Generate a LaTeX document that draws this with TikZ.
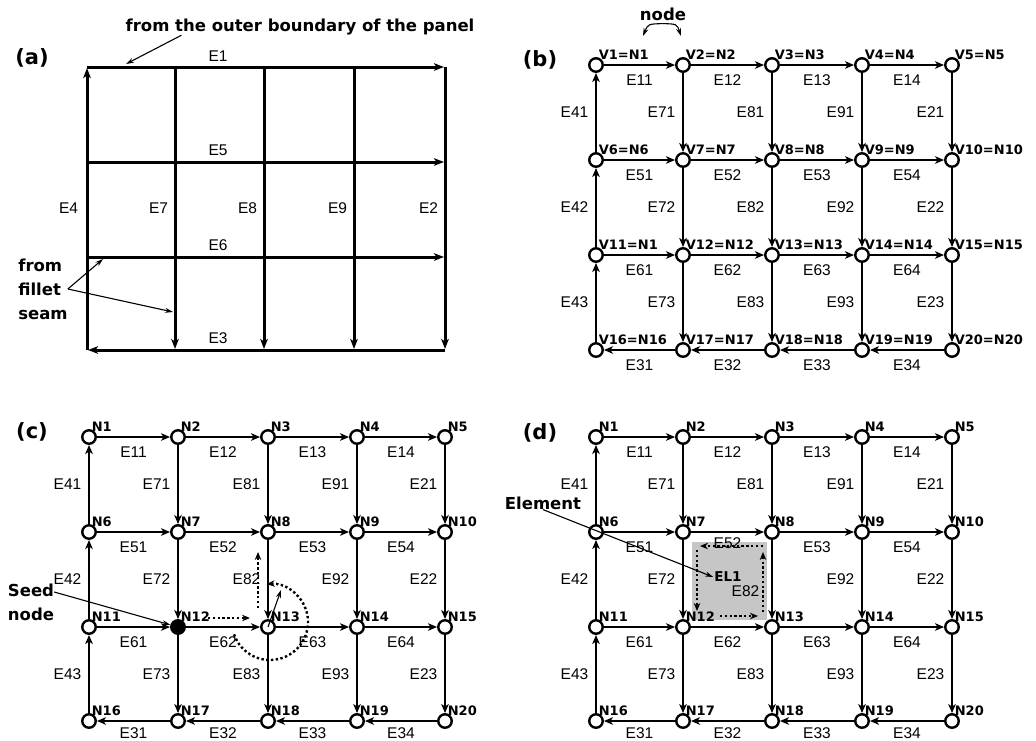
\documentclass[tikz,border=0pt]{standalone}
\usepackage{fontspec}
\setmainfont{Liberation Sans}
\newfontfamily\djv{DejaVu Sans}
\usetikzlibrary{arrows.meta}
\tikzset{
	vtx/.style={draw,circle,line width=2.4pt,fill=white,minimum size=13.5pt,inner sep=0pt,label distance=3pt},
	nlbl/.style={font=\djv\bfseries\fontsize{13}{13}\selectfont,inner sep=0pt,xshift=-3pt},
	link/.style={line width=2.4pt,-{Stealth[length=9pt,width=7.5pt,inset=2.5pt]}},
	aline/.style={line width=3pt,shorten >=1pt,-{Stealth[length=10pt,width=7.5pt,inset=2.5pt]}},
	elbl/.style={font=\fontsize{15.5}{15.5}\selectfont,inner sep=1.5pt},
	hl/.style={elbl,below=7pt},
	hlb/.style={elbl,below=4pt},
	vl/.style={elbl,left=5pt},
	alab/.style={elbl,above=3pt},
	note/.style={line width=1.1pt,-{Stealth[length=8pt,width=5pt]}},
	dots/.style={line width=2.4pt,dash pattern=on 2.4pt off 2.4pt,-{Stealth[length=8pt,width=6.5pt]}},
	big/.style={font=\djv\bfseries\fontsize{16.5}{24}\selectfont,inner sep=0pt},
	tag/.style={font=\djv\bfseries\fontsize{21}{21}\selectfont,inner sep=0pt}
}
\begin{document}
\begin{tikzpicture}[x=1pt,y=-1pt]
\fill[white] (0,0) rectangle (1036,740);
\useasboundingbox (0,0) rectangle (1036,740);
\node[tag] (taga) at (32,58) {(a)};
\node[tag] (tagb) at (540,60) {(b)};
\node[tag] (tagc) at (32,432) {(c)};
\node[tag] (tagd) at (540,433) {(d)};
\coordinate (a1) at (87,67);
\coordinate (a2) at (175,67);
\coordinate (a3) at (264,67);
\coordinate (a4) at (354,67);
\coordinate (a5) at (445,67);
\coordinate (a6) at (87,162);
\coordinate (a10) at (445,162);
\coordinate (a11) at (87,257);
\coordinate (a15) at (445,257);
\coordinate (a16) at (87,350);
\coordinate (a17) at (175,350);
\coordinate (a18) at (264,350);
\coordinate (a19) at (354,350);
\coordinate (a20) at (445,350);
\draw[aline] (a1) -- node[alab,pos=0.366] {E1} (a5);
\draw[aline] (a6) -- node[alab,pos=0.366] {E5} (a10);
\draw[aline] (a11) -- node[alab,pos=0.366] {E6} (a15);
\draw[aline] (a20) -- node[alab,pos=0.634] {E3} (a16);
\draw[aline] (a16) -- node[elbl,left=6pt] {E4} (a1);
\draw[aline] (a2) -- node[elbl,left=4pt] {E7} (a17);
\draw[aline] (a3) -- node[elbl,left=4pt] {E8} (a18);
\draw[aline] (a4) -- node[elbl,left=4pt] {E9} (a19);
\draw[aline] (a5) -- node[elbl,left=4pt] {E2} (a20);
\node[big] (outer) at (300,27) {from the outer boundary of the panel};
\coordinate (oe) at (126,64);
\draw[note] ([xshift=56pt]outer.south west) -- (oe);
\node[big,align=left] (fillet) at (43,289) {from\\fillet\\seam};
\coordinate (fa) at (103,259);
\coordinate (fb) at (173,312);
\draw[note] (fillet.east) -- (fa);
\draw[note] (fillet.east) -- (fb);
\node[vtx,label={[nlbl]45:V1=N1}] (b1) at (596,65) {};
\node[vtx,label={[nlbl]45:V2=N2}] (b2) at (683,65) {};
\node[vtx,label={[nlbl]45:V3=N3}] (b3) at (772,65) {};
\node[vtx,label={[nlbl]45:V4=N4}] (b4) at (862,65) {};
\node[vtx,label={[nlbl]45:V5=N5}] (b5) at (952,65) {};
\node[vtx,label={[nlbl]45:V6=N6}] (b6) at (596,160) {};
\node[vtx,label={[nlbl]45:V7=N7}] (b7) at (683,160) {};
\node[vtx,label={[nlbl]45:V8=N8}] (b8) at (772,160) {};
\node[vtx,label={[nlbl]45:V9=N9}] (b9) at (862,160) {};
\node[vtx,label={[nlbl]45:V10=N10}] (b10) at (952,160) {};
\node[vtx,label={[nlbl]45:V11=N1}] (b11) at (596,255) {};
\node[vtx,label={[nlbl]45:V12=N12}] (b12) at (683,255) {};
\node[vtx,label={[nlbl]45:V13=N13}] (b13) at (772,255) {};
\node[vtx,label={[nlbl]45:V14=N14}] (b14) at (862,255) {};
\node[vtx,label={[nlbl]45:V15=N15}] (b15) at (952,255) {};
\node[vtx,label={[nlbl]45:V16=N16}] (b16) at (596,350) {};
\node[vtx,label={[nlbl]45:V17=N17}] (b17) at (683,350) {};
\node[vtx,label={[nlbl]45:V18=N18}] (b18) at (772,350) {};
\node[vtx,label={[nlbl]45:V19=N19}] (b19) at (862,350) {};
\node[vtx,label={[nlbl]45:V20=N20}] (b20) at (952,350) {};
\draw[link] (b1) -- node[hl] {E11} (b2);
\draw[link] (b2) -- node[hl] {E12} (b3);
\draw[link] (b3) -- node[hl] {E13} (b4);
\draw[link] (b4) -- node[hl] {E14} (b5);
\draw[link] (b5) -- node[vl] {E21} (b10);
\draw[link] (b10) -- node[vl] {E22} (b15);
\draw[link] (b15) -- node[vl] {E23} (b20);
\draw[link] (b17) -- node[hl] {E31} (b16);
\draw[link] (b18) -- node[hl] {E32} (b17);
\draw[link] (b19) -- node[hl] {E33} (b18);
\draw[link] (b20) -- node[hl] {E34} (b19);
\draw[link] (b6) -- node[vl] {E41} (b1);
\draw[link] (b11) -- node[vl] {E42} (b6);
\draw[link] (b16) -- node[vl] {E43} (b11);
\draw[link] (b6) -- node[hl] {E51} (b7);
\draw[link] (b7) -- node[hl] {E52} (b8);
\draw[link] (b8) -- node[hl] {E53} (b9);
\draw[link] (b9) -- node[hl] {E54} (b10);
\draw[link] (b11) -- node[hl] {E61} (b12);
\draw[link] (b12) -- node[hl] {E62} (b13);
\draw[link] (b13) -- node[hl] {E63} (b14);
\draw[link] (b14) -- node[hl] {E64} (b15);
\draw[link] (b2) -- node[vl] {E71} (b7);
\draw[link] (b7) -- node[vl] {E72} (b12);
\draw[link] (b12) -- node[vl] {E73} (b17);
\draw[link] (b3) -- node[vl] {E81} (b8);
\draw[link] (b8) -- node[vl] {E82} (b13);
\draw[link] (b13) -- node[vl] {E83} (b18);
\draw[link] (b4) -- node[vl] {E91} (b9);
\draw[link] (b9) -- node[vl] {E92} (b14);
\draw[link] (b14) -- node[vl] {E93} (b19);
\node[big] (nodetxt) at (663,14) {node};
\coordinate (hl1) at (643,36);
\coordinate (hr1) at (681,36);
\draw[note] ([yshift=-3pt]nodetxt.south) .. controls (648,24) .. (hl1);
\draw[note] ([yshift=-3pt]nodetxt.south) .. controls (677,24) .. (hr1);
\node[vtx,label={[nlbl]45:N1}] (c1) at (89,437) {};
\node[vtx,label={[nlbl]45:N2}] (c2) at (178,437) {};
\node[vtx,label={[nlbl]45:N3}] (c3) at (268,437) {};
\node[vtx,label={[nlbl]45:N4}] (c4) at (357,437) {};
\node[vtx,label={[nlbl]45:N5}] (c5) at (445,437) {};
\node[vtx,label={[nlbl]45:N6}] (c6) at (89,532) {};
\node[vtx,label={[nlbl]45:N7}] (c7) at (178,532) {};
\node[vtx,label={[nlbl]45:N8}] (c8) at (268,532) {};
\node[vtx,label={[nlbl]45:N9}] (c9) at (357,532) {};
\node[vtx,label={[nlbl]45:N10}] (c10) at (445,532) {};
\node[vtx,label={[nlbl]45:N11}] (c11) at (89,627) {};
\node[vtx,fill=black,label={[nlbl]45:N12}] (c12) at (178,627) {};
\node[vtx,label={[nlbl]45:N13}] (c13) at (268,627) {};
\node[vtx,label={[nlbl]45:N14}] (c14) at (357,627) {};
\node[vtx,label={[nlbl]45:N15}] (c15) at (445,627) {};
\node[vtx,label={[nlbl]45:N16}] (c16) at (89,721) {};
\node[vtx,label={[nlbl]45:N17}] (c17) at (178,721) {};
\node[vtx,label={[nlbl]45:N18}] (c18) at (268,721) {};
\node[vtx,label={[nlbl]45:N19}] (c19) at (357,721) {};
\node[vtx,label={[nlbl]45:N20}] (c20) at (445,721) {};
\draw[link] (c1) -- node[hl] {E11} (c2);
\draw[link] (c2) -- node[hl] {E12} (c3);
\draw[link] (c3) -- node[hl] {E13} (c4);
\draw[link] (c4) -- node[hl] {E14} (c5);
\draw[link] (c5) -- node[vl] {E21} (c10);
\draw[link] (c10) -- node[vl] {E22} (c15);
\draw[link] (c15) -- node[vl] {E23} (c20);
\draw[link] (c17) -- node[hlb] {E31} (c16);
\draw[link] (c18) -- node[hlb] {E32} (c17);
\draw[link] (c19) -- node[hlb] {E33} (c18);
\draw[link] (c20) -- node[hlb] {E34} (c19);
\draw[link] (c6) -- node[vl] {E41} (c1);
\draw[link] (c11) -- node[vl] {E42} (c6);
\draw[link] (c16) -- node[vl] {E43} (c11);
\draw[link] (c6) -- node[hl] {E51} (c7);
\draw[link] (c7) -- node[hl] {E52} (c8);
\draw[link] (c8) -- node[hl] {E53} (c9);
\draw[link] (c9) -- node[hl] {E54} (c10);
\draw[link] (c11) -- node[hl] {E61} (c12);
\draw[link] (c12) -- node[hl] {E62} (c13);
\draw[link] (c13) -- node[hl] {E63} (c14);
\draw[link] (c14) -- node[hl] {E64} (c15);
\draw[link] (c2) -- node[vl] {E71} (c7);
\draw[link] (c7) -- node[vl] {E72} (c12);
\draw[link] (c12) -- node[vl] {E73} (c17);
\draw[link] (c3) -- node[vl] {E81} (c8);
\draw[link] (c8) -- node[vl] {E82} (c13);
\draw[link] (c13) -- node[vl] {E83} (c18);
\draw[link] (c4) -- node[vl] {E91} (c9);
\draw[link] (c9) -- node[vl] {E92} (c14);
\draw[link] (c14) -- node[vl] {E93} (c19);
\node[big,align=left] (seed) at (31,602) {Seed\\node};
\draw[note] ([yshift=10pt]seed.east) -- (c12);
\coordinate (s1) at (208,618);
\coordinate (s2) at (250,618);
\coordinate (s3) at (258,608);
\coordinate (s4) at (258,552);
\coordinate (s5) at (281,590);
\coordinate (rot) at (270,622);
\draw[dots] (s1) -- (s2);
\draw[dots] (s3) -- (s4);
\draw[dots] ([shift={(199:38pt)}]rot) arc[start angle=199,end angle=455,radius=38pt];
\draw[note] (c13.center) -- (s5);
\fill[gray!45] (692,542) rectangle (767,620);
\coordinate (e1) at (763,546);
\coordinate (e2) at (700,546);
\coordinate (e3) at (697,550);
\coordinate (e4) at (697,611);
\coordinate (e5) at (720,616);
\coordinate (e6) at (758,616);
\coordinate (e7) at (763,612);
\coordinate (e8) at (763,552);
\draw[dots] (e1) -- (e2);
\draw[dots] (e3) -- (e4);
\draw[dots] (e5) -- (e6);
\draw[dots] (e7) -- (e8);
\node[vtx,label={[nlbl]45:N1}] (d1) at (596,437) {};
\node[vtx,label={[nlbl]45:N2}] (d2) at (683,437) {};
\node[vtx,label={[nlbl]45:N3}] (d3) at (772,437) {};
\node[vtx,label={[nlbl]45:N4}] (d4) at (862,437) {};
\node[vtx,label={[nlbl]45:N5}] (d5) at (952,437) {};
\node[vtx,label={[nlbl]45:N6}] (d6) at (596,532) {};
\node[vtx,label={[nlbl]45:N7}] (d7) at (683,532) {};
\node[vtx,label={[nlbl]45:N8}] (d8) at (772,532) {};
\node[vtx,label={[nlbl]45:N9}] (d9) at (862,532) {};
\node[vtx,label={[nlbl]45:N10}] (d10) at (952,532) {};
\node[vtx,label={[nlbl]45:N11}] (d11) at (596,627) {};
\node[vtx,label={[nlbl]45:N12}] (d12) at (683,627) {};
\node[vtx,label={[nlbl]45:N13}] (d13) at (772,627) {};
\node[vtx,label={[nlbl]45:N14}] (d14) at (862,627) {};
\node[vtx,label={[nlbl]45:N15}] (d15) at (952,627) {};
\node[vtx,label={[nlbl]45:N16}] (d16) at (596,721) {};
\node[vtx,label={[nlbl]45:N17}] (d17) at (683,721) {};
\node[vtx,label={[nlbl]45:N18}] (d18) at (772,721) {};
\node[vtx,label={[nlbl]45:N19}] (d19) at (862,721) {};
\node[vtx,label={[nlbl]45:N20}] (d20) at (952,721) {};
\draw[link] (d1) -- node[hl] {E11} (d2);
\draw[link] (d2) -- node[hl] {E12} (d3);
\draw[link] (d3) -- node[hl] {E13} (d4);
\draw[link] (d4) -- node[hl] {E14} (d5);
\draw[link] (d5) -- node[vl] {E21} (d10);
\draw[link] (d10) -- node[vl] {E22} (d15);
\draw[link] (d15) -- node[vl] {E23} (d20);
\draw[link] (d17) -- node[hlb] {E31} (d16);
\draw[link] (d18) -- node[hlb] {E32} (d17);
\draw[link] (d19) -- node[hlb] {E33} (d18);
\draw[link] (d20) -- node[hlb] {E34} (d19);
\draw[link] (d6) -- node[vl] {E41} (d1);
\draw[link] (d11) -- node[vl] {E42} (d6);
\draw[link] (d16) -- node[vl] {E43} (d11);
\draw[link] (d6) -- node[hl] {E51} (d7);
\draw[link] (d7) -- node[elbl,below=3pt] {E52} (d8);
\draw[link] (d8) -- node[hl] {E53} (d9);
\draw[link] (d9) -- node[hl] {E54} (d10);
\draw[link] (d11) -- node[hl] {E61} (d12);
\draw[link] (d12) -- node[hl] {E62} (d13);
\draw[link] (d13) -- node[hl] {E63} (d14);
\draw[link] (d14) -- node[hl] {E64} (d15);
\draw[link] (d2) -- node[vl] {E71} (d7);
\draw[link] (d7) -- node[vl] {E72} (d12);
\draw[link] (d12) -- node[vl] {E73} (d17);
\draw[link] (d3) -- node[vl] {E81} (d8);
\draw[link] (d8) -- node[elbl,left=10pt,pos=0.65] {E82} (d13);
\draw[link] (d13) -- node[vl] {E83} (d18);
\draw[link] (d4) -- node[vl] {E91} (d9);
\draw[link] (d9) -- node[vl] {E92} (d14);
\draw[link] (d14) -- node[vl] {E93} (d19);
\node[font=\djv\bfseries\fontsize{13.5}{13.5}\selectfont,inner sep=1pt] (el1) at (728,577) {EL1};
\node[big] (element) at (543,503) {Element};
\draw[note] (element.south) -- (el1.west);
\end{tikzpicture}
\end{document}
